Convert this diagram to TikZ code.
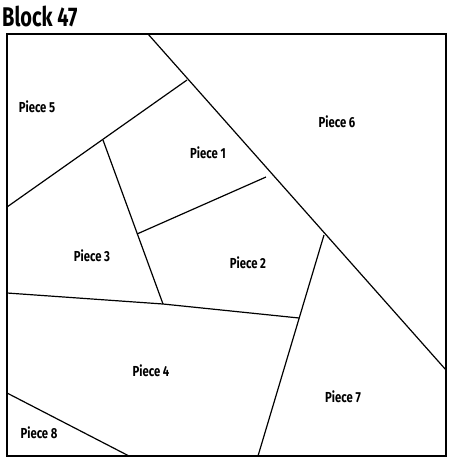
\documentclass[tikz,border=0pt]{standalone}
\usepackage{fontspec}
\setmainfont{Fira Sans}
\newfontfamily\lblfont[FakeStretch=0.78]{Fira Sans Bold}
\newfontfamily\ttlfont[FakeStretch=0.74]{Fira Sans Bold}
\begin{document}
\begin{tikzpicture}[x=1pt,y=-1pt,
  seam/.style={line width=1.2pt},
  border/.style={line width=2.2pt},
  lbl/.style={font=\lblfont\fontsize{14.5}{16}\selectfont, inner sep=0pt}]
\useasboundingbox (0,0) rectangle (450,459);
% key points
\coordinate (TL) at (7,34);
\coordinate (BR) at (446,456);
\coordinate (d1) at (148,34);
\coordinate (d2) at (446,370);
\coordinate (a1) at (7,207);
\coordinate (a2) at (187,80);
\coordinate (b1) at (103,140);
\coordinate (b2) at (163,304);
\coordinate (c1) at (137,234);
\coordinate (c2) at (266,177);
\coordinate (e1) at (324,235);
\coordinate (e2) at (258,456);
\coordinate (f1) at (7,293);
\coordinate (f2) at (299,318);
\coordinate (g1) at (7,393);
\coordinate (g2) at (129,456);
% seams
\draw[seam] (d1) -- (d2);
\draw[seam] (a1) -- (a2);
\draw[seam] (b1) -- (b2);
\draw[seam] (c1) -- (c2);
\draw[seam] (e1) -- (e2);
\draw[seam] (f1) -- (b2) -- (f2);
\draw[seam] (g1) -- (g2);
\draw[border] (TL) rectangle (BR);
% title
\node[anchor=west, inner sep=0pt, font=\ttlfont\fontsize{27}{29}\selectfont] (title) at (2,16) {Block 47};
% labels
\node[lbl] (p5) at (37,107) {Piece 5};
\node[lbl] (p6) at (337,122) {Piece 6};
\node[lbl] (p1) at (208,153) {Piece 1};
\node[lbl] (p3) at (92,256) {Piece 3};
\node[lbl] (p2) at (248,263) {Piece 2};
\node[lbl] (p4) at (151,371) {Piece 4};
\node[lbl] (p7) at (343,397) {Piece 7};
\node[lbl] (p8) at (39,433) {Piece 8};
\end{tikzpicture}
\end{document}
